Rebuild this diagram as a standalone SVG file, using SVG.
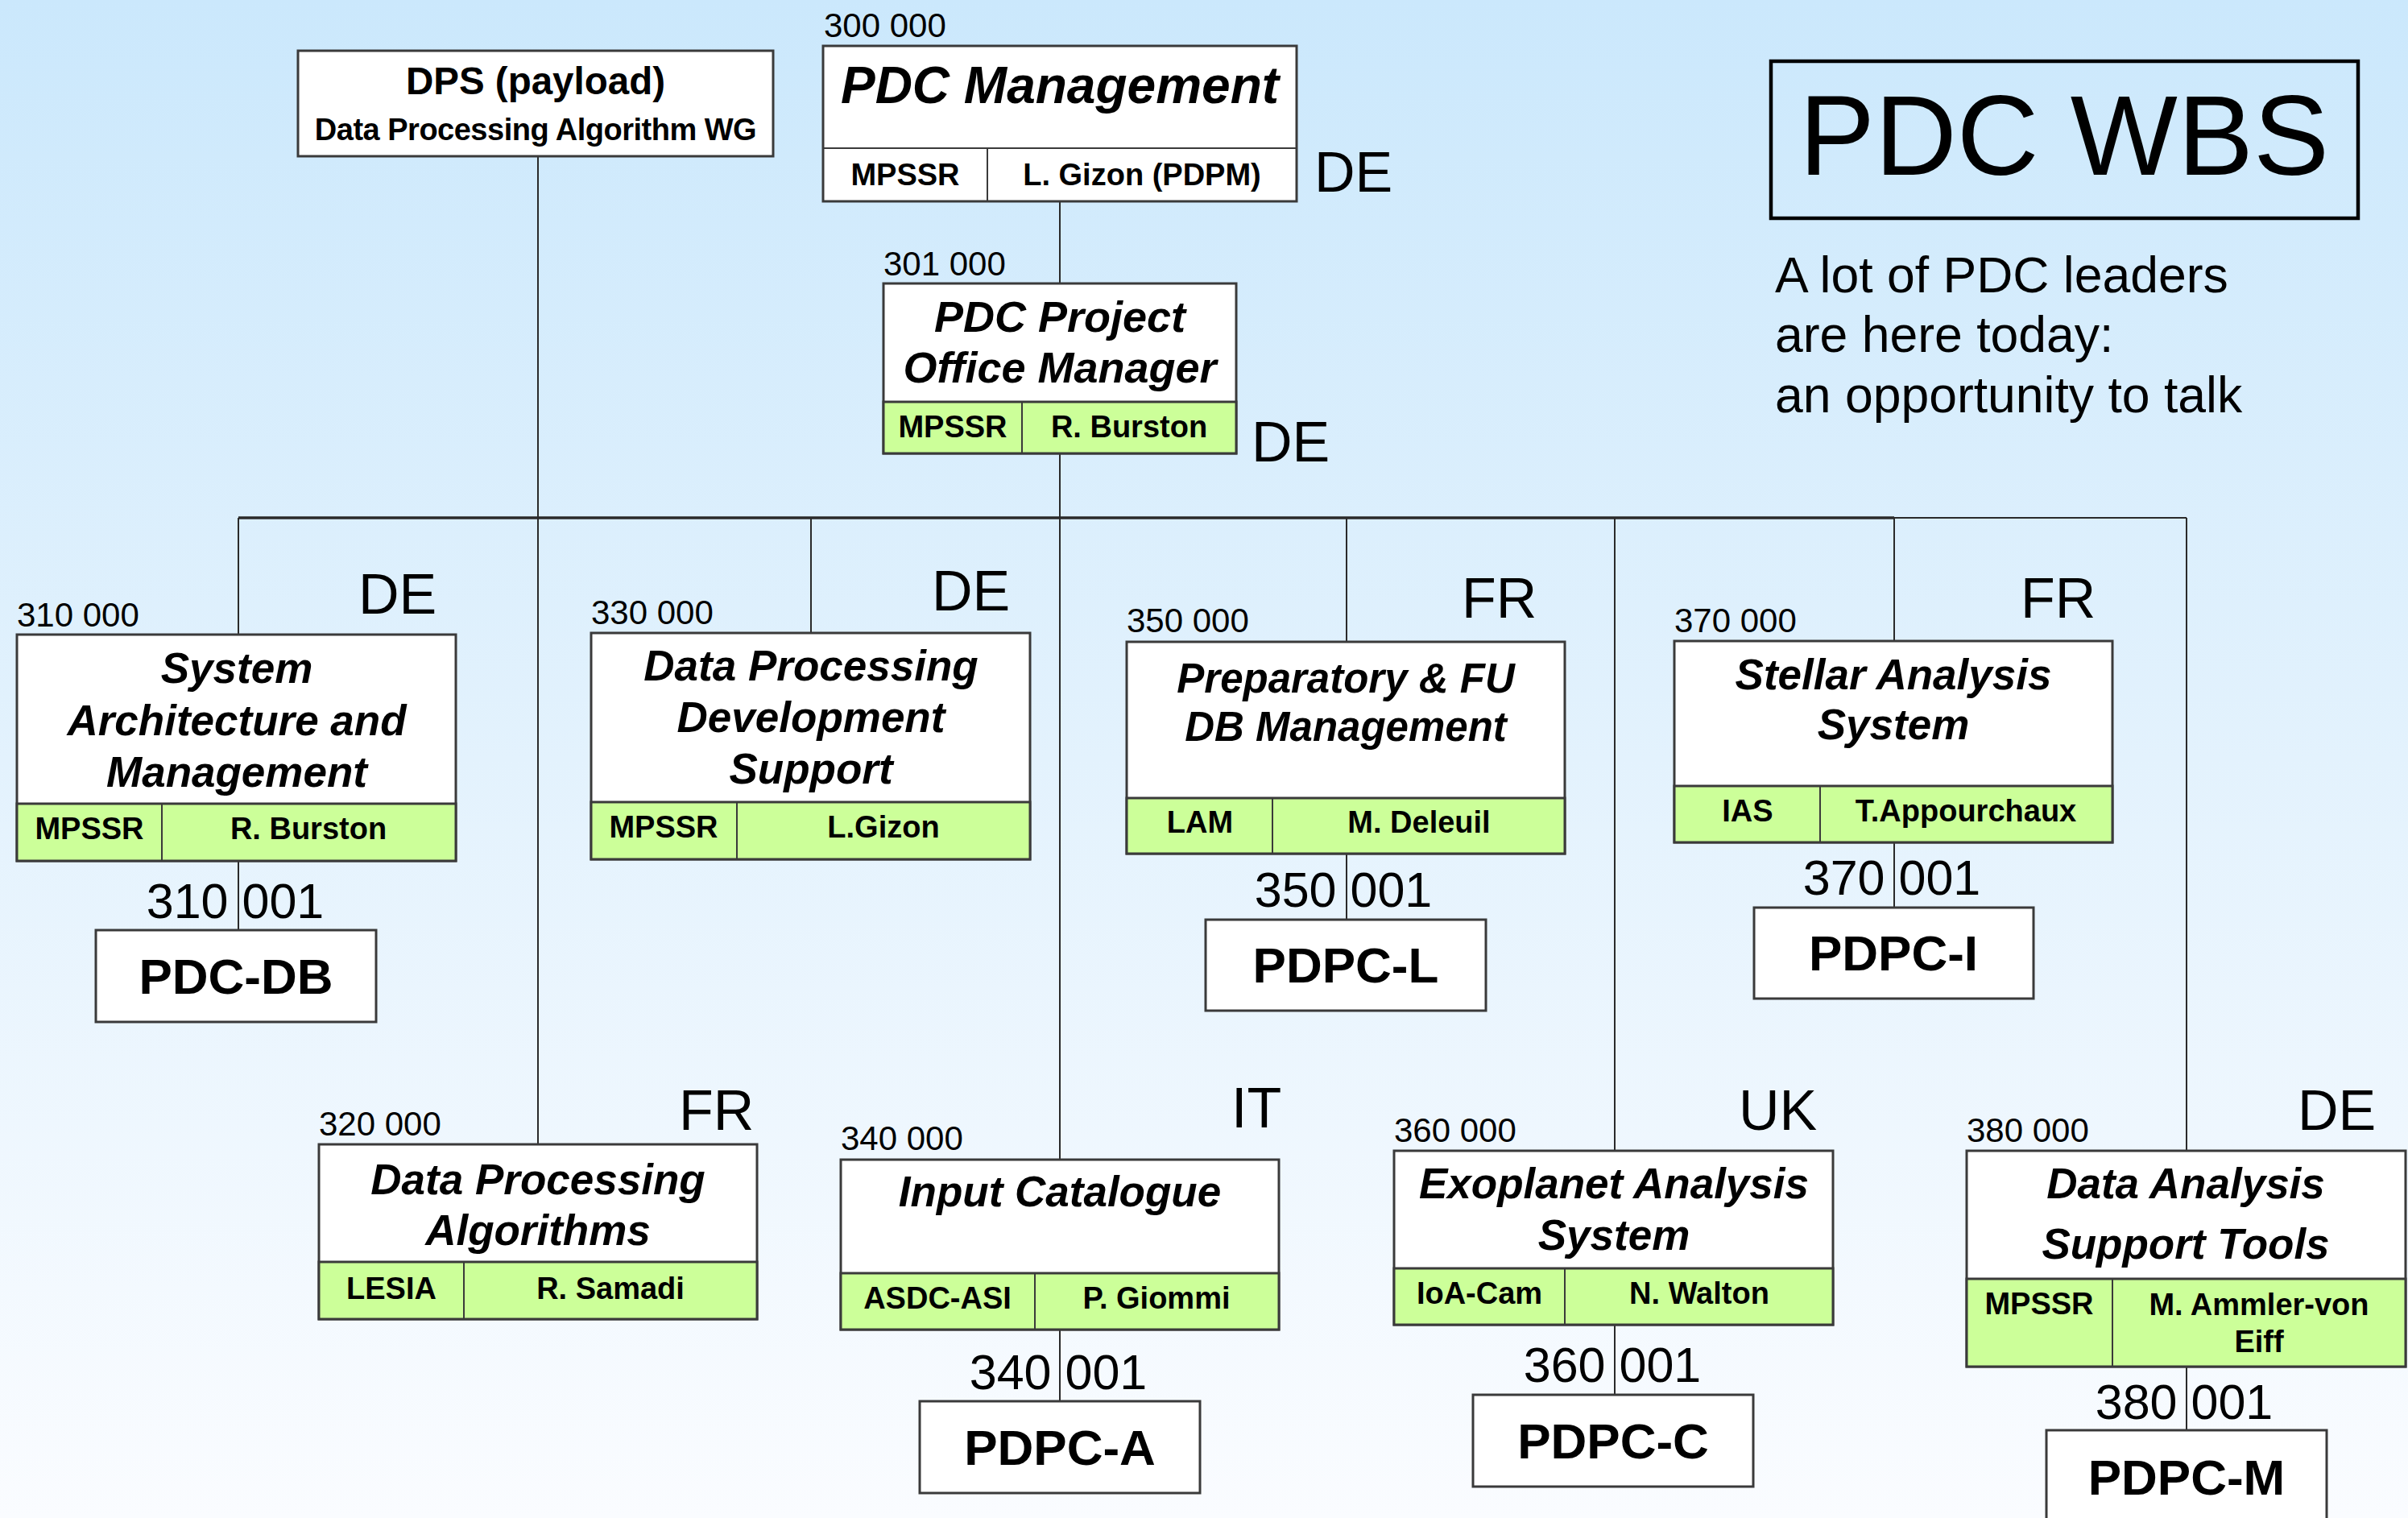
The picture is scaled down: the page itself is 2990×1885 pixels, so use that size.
<svg xmlns="http://www.w3.org/2000/svg" width="2990" height="1885" viewBox="0 0 2990 1885">
  <defs>
    <linearGradient id="bg" x1="0" y1="0" x2="0" y2="1">
      <stop offset="0" stop-color="#cbe8fc"/>
      <stop offset="0.5" stop-color="#e3f2fd"/>
      <stop offset="1" stop-color="#fafcff"/>
    </linearGradient>
    <style>
      .box { fill: #ffffff; stroke: #3a3a3a; stroke-width: 3; }
      .grn { fill: #ccff99; stroke: #3a3a3a; stroke-width: 3; }
      .sep { stroke: #3a3a3a; stroke-width: 2; }
      .wire { stroke: #2a2a2a; stroke-width: 2; fill: none; }
      .bus { stroke: #2a2a2a; stroke-width: 3.5; fill: none; }
      text { font-family: "Liberation Sans", Arial, sans-serif; fill: #000; }
      .ti { font-weight: bold; font-style: italic; font-size: 53px; text-anchor: middle; }
      .lb { font-weight: bold; font-size: 38px; text-anchor: middle; }
      .num { font-size: 42px; }
      .cc { font-size: 70px; }
      .pc { font-weight: bold; font-size: 62px; text-anchor: middle; }
      .sub { font-size: 61px; text-anchor: middle; }
    </style>
  </defs>

  <rect x="0" y="0" width="2990" height="1885" fill="url(#bg)"/>

  <!-- connectors -->
  <g id="connectors">
    <line class="wire" x1="1316" y1="250" x2="1316" y2="352"/>
    <line class="wire" x1="1316" y1="563" x2="1316" y2="1440"/>
    <line class="bus" x1="296" y1="643" x2="2352" y2="643"/>
    <line class="wire" x1="2352" y1="643" x2="2715" y2="643"/>
    <line class="wire" x1="668" y1="194" x2="668" y2="1421"/>
    <line class="wire" x1="296" y1="643" x2="296" y2="788"/>
    <line class="wire" x1="1007" y1="643" x2="1007" y2="786"/>
    <line class="wire" x1="1672" y1="643" x2="1672" y2="797"/>
    <line class="wire" x1="2352" y1="643" x2="2352" y2="796"/>
    <line class="wire" x1="2005" y1="643" x2="2005" y2="1429"/>
    <line class="wire" x1="2715" y1="643" x2="2715" y2="1429"/>
    <line class="wire" x1="296" y1="1069" x2="296" y2="1155"/>
    <line class="wire" x1="1672" y1="1060" x2="1672" y2="1142"/>
    <line class="wire" x1="2352" y1="1046" x2="2352" y2="1127"/>
    <line class="wire" x1="1316" y1="1651" x2="1316" y2="1740"/>
    <line class="wire" x1="2005" y1="1645" x2="2005" y2="1732"/>
    <line class="wire" x1="2715" y1="1697" x2="2715" y2="1776"/>
  </g>

  <!-- payload working group -->
  <g id="dps">
    <rect class="box" x="370" y="63" width="590" height="131"/>
    <text x="665" y="117" style="font-weight:bold;font-size:47.5px" text-anchor="middle">DPS (payload)</text>
    <text x="665" y="174" style="font-weight:bold;font-size:38px;letter-spacing:-0.5px" text-anchor="middle">Data Processing Algorithm WG</text>
  </g>

  <!-- 300 000 -->
  <g id="n300">
    <text class="num" x="1023" y="46">300 000</text>
    <rect class="box" x="1022" y="57" width="588" height="193"/>
    <line class="sep" x1="1022" y1="184" x2="1610" y2="184"/>
    <line class="sep" x1="1226" y1="184" x2="1226" y2="250"/>
    <text x="1316" y="128" style="font-weight:bold;font-style:italic;font-size:64px" text-anchor="middle">PDC Management</text>
    <text class="lb" x="1124" y="230">MPSSR</text>
    <text class="lb" x="1418" y="230">L. Gizon (PDPM)</text>
    <text class="cc" x="1632" y="238">DE</text>
  </g>

  <!-- 301 000 -->
  <g id="n301">
    <text class="num" x="1097" y="342">301 000</text>
    <rect class="box" x="1097" y="352" width="438" height="211"/>
    <rect class="grn" x="1097" y="499" width="438" height="64"/>
    <line class="sep" x1="1269" y1="499" x2="1269" y2="563"/>
    <text class="ti" x="1316" y="412" style="font-size:54px">PDC Project</text>
    <text class="ti" x="1316" y="475" style="font-size:54px">Office Manager</text>
    <text class="lb" x="1183" y="543">MPSSR</text>
    <text class="lb" x="1402" y="543">R. Burston</text>
    <text class="cc" x="1554" y="573">DE</text>
  </g>

  <!-- 310 000 -->
  <g id="n310">
    <text class="num" x="21" y="778">310 000</text>
    <text class="cc" x="445" y="762">DE</text>
    <rect class="box" x="21" y="788" width="545" height="281"/>
    <rect class="grn" x="21" y="998" width="545" height="71"/>
    <line class="sep" x1="201" y1="998" x2="201" y2="1069"/>
    <text class="ti" x="294" y="848">System</text>
    <text class="ti" x="294" y="913">Architecture and</text>
    <text class="ti" x="294" y="977">Management</text>
    <text class="lb" x="111" y="1042">MPSSR</text>
    <text class="lb" x="383" y="1042">R. Burston</text>
  </g>
  <g id="n310-1">
    <text class="sub" x="292" y="1140">310 001</text>
    <rect class="box" x="119" y="1155" width="348" height="114"/>
    <text class="pc" x="293" y="1234">PDC-DB</text>
  </g>

  <!-- 320 000 -->
  <g id="n320">
    <text class="num" x="396" y="1410">320 000</text>
    <text class="cc" x="843" y="1403">FR</text>
    <rect class="box" x="396" y="1421" width="544" height="217"/>
    <rect class="grn" x="396" y="1567" width="544" height="71"/>
    <line class="sep" x1="576" y1="1567" x2="576" y2="1638"/>
    <text class="ti" x="668" y="1483">Data Processing</text>
    <text class="ti" x="668" y="1546">Algorithms</text>
    <text class="lb" x="486" y="1613">LESIA</text>
    <text class="lb" x="758" y="1613">R. Samadi</text>
  </g>

  <!-- 330 000 -->
  <g id="n330">
    <text class="num" x="734" y="775">330 000</text>
    <text class="cc" x="1157" y="758">DE</text>
    <rect class="box" x="734" y="786" width="545" height="281"/>
    <rect class="grn" x="734" y="996" width="545" height="71"/>
    <line class="sep" x1="915" y1="996" x2="915" y2="1067"/>
    <text class="ti" x="1007" y="845">Data Processing</text>
    <text class="ti" x="1007" y="909">Development</text>
    <text class="ti" x="1007" y="973">Support</text>
    <text class="lb" x="824" y="1040">MPSSR</text>
    <text class="lb" x="1097" y="1040">L.Gizon</text>
  </g>

  <!-- 340 000 -->
  <g id="n340">
    <text class="num" x="1044" y="1428">340 000</text>
    <text class="cc" x="1529" y="1400">IT</text>
    <rect class="box" x="1044" y="1440" width="544" height="211"/>
    <rect class="grn" x="1044" y="1581" width="544" height="70"/>
    <line class="sep" x1="1285" y1="1581" x2="1285" y2="1651"/>
    <text class="ti" x="1316" y="1498">Input Catalogue</text>
    <text class="lb" x="1164" y="1625">ASDC-ASI</text>
    <text class="lb" x="1436" y="1625">P. Giommi</text>
  </g>
  <g id="n340-1">
    <text class="sub" x="1314" y="1725">340 001</text>
    <rect class="box" x="1142" y="1740" width="348" height="114"/>
    <text class="pc" x="1316" y="1819">PDPC-A</text>
  </g>

  <!-- 350 000 -->
  <g id="n350">
    <text class="num" x="1399" y="785">350 000</text>
    <text class="cc" x="1815" y="767">FR</text>
    <rect class="box" x="1399" y="797" width="544" height="263"/>
    <rect class="grn" x="1399" y="991" width="544" height="69"/>
    <line class="sep" x1="1580" y1="991" x2="1580" y2="1060"/>
    <text class="ti" x="1671" y="860" style="font-size:51px">Preparatory &amp; FU</text>
    <text class="ti" x="1671" y="920" style="font-size:51px">DB Management</text>
    <text class="lb" x="1490" y="1034">LAM</text>
    <text class="lb" x="1762" y="1034">M. Deleuil</text>
  </g>
  <g id="n350-1">
    <text class="sub" x="1668" y="1126">350 001</text>
    <rect class="box" x="1497" y="1142" width="348" height="113"/>
    <text class="pc" x="1671" y="1220">PDPC-L</text>
  </g>

  <!-- 360 000 -->
  <g id="n360">
    <text class="num" x="1731" y="1418">360 000</text>
    <text class="cc" x="2159" y="1403">UK</text>
    <rect class="box" x="1731" y="1429" width="545" height="216"/>
    <rect class="grn" x="1731" y="1575" width="545" height="70"/>
    <line class="sep" x1="1943" y1="1575" x2="1943" y2="1645"/>
    <text class="ti" x="2004" y="1488">Exoplanet Analysis</text>
    <text class="ti" x="2004" y="1552">System</text>
    <text class="lb" x="1837" y="1619">IoA-Cam</text>
    <text class="lb" x="2110" y="1619">N. Walton</text>
  </g>
  <g id="n360-1">
    <text class="sub" x="2002" y="1716">360 001</text>
    <rect class="box" x="1829" y="1732" width="348" height="114"/>
    <text class="pc" x="2003" y="1811">PDPC-C</text>
  </g>

  <!-- 370 000 -->
  <g id="n370">
    <text class="num" x="2079" y="785">370 000</text>
    <text class="cc" x="2509" y="767">FR</text>
    <rect class="box" x="2079" y="796" width="544" height="250"/>
    <rect class="grn" x="2079" y="976" width="544" height="70"/>
    <line class="sep" x1="2260" y1="976" x2="2260" y2="1046"/>
    <text class="ti" x="2351" y="856">Stellar Analysis</text>
    <text class="ti" x="2351" y="918">System</text>
    <text class="lb" x="2170" y="1020">IAS</text>
    <text class="lb" x="2441" y="1020">T.Appourchaux</text>
  </g>
  <g id="n370-1">
    <text class="sub" x="2349" y="1111">370 001</text>
    <rect class="box" x="2178" y="1127" width="347" height="113"/>
    <text class="pc" x="2351" y="1205">PDPC-I</text>
  </g>

  <!-- 380 000 -->
  <g id="n380">
    <text class="num" x="2442" y="1418">380 000</text>
    <text class="cc" x="2853" y="1403">DE</text>
    <rect class="box" x="2442" y="1429" width="545" height="268"/>
    <rect class="grn" x="2442" y="1588" width="545" height="109"/>
    <line class="sep" x1="2623" y1="1588" x2="2623" y2="1697"/>
    <text class="ti" x="2714" y="1488">Data Analysis</text>
    <text class="ti" x="2714" y="1563">Support Tools</text>
    <text class="lb" x="2532" y="1632">MPSSR</text>
    <text class="lb" x="2805" y="1633">M. Ammler-von</text>
    <text class="lb" x="2805" y="1679">Eiff</text>
  </g>
  <g id="n380-1">
    <text class="sub" x="2712" y="1762">380 001</text>
    <rect class="box" x="2541" y="1776" width="348" height="120"/>
    <text class="pc" x="2715" y="1856">PDPC-M</text>
  </g>

  <!-- title panel -->
  <g id="title">
    <rect x="2199" y="76" width="729" height="195" fill="none" stroke="#000" stroke-width="4.5"/>
    <text x="2563" y="217" style="font-size:141px" text-anchor="middle">PDC WBS</text>
    <text x="2204" y="363" style="font-size:62.5px">A lot of PDC leaders</text>
    <text x="2204" y="437" style="font-size:62.5px">are here today:</text>
    <text x="2204" y="512" style="font-size:62.5px">an opportunity to talk</text>
  </g>
</svg>
